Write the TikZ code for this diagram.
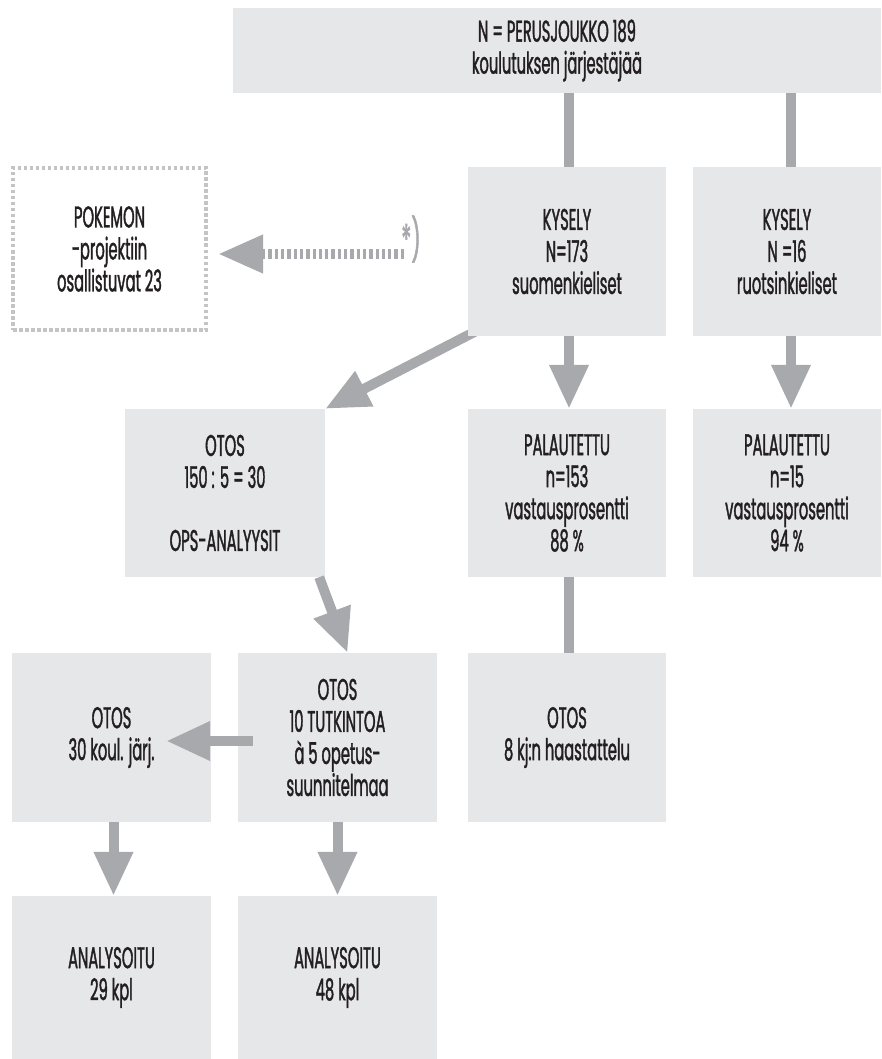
\documentclass[tikz,border=0pt]{standalone}
\usepackage{fontspec}
\setmainfont{Poppins}[FakeStretch=0.49, FakeBold=1.2]
\usetikzlibrary{arrows.meta,backgrounds}
\definecolor{boxgray}{HTML}{E6E7E8}
\definecolor{arrowgray}{HTML}{A7A9AC}
\definecolor{dotgray}{HTML}{C4C4C4}
\definecolor{textblack}{HTML}{231F20}

\begin{document}
\begin{tikzpicture}[x=1pt, y=-1pt,
		box/.style={fill=boxgray, minimum width=199pt, minimum height=169pt, inner sep=0pt,
			align=center, text=textblack, font=\fontsize{30}{32}\selectfont},
		link/.style={draw=arrowgray, line width=10pt},
		flow/.style={link, -{Triangle[length=44pt, width=37pt]}},
	]
	\useasboundingbox (0,0) rectangle (881,1059);

	\node[box, minimum width=648pt, minimum height=85pt] (top) at (557,50.5)
		{N = PERUSJOUKKO 189\\koulutuksen järjestäjää};
	\node[box, minimum width=198pt] (kys1) at (567,251.5) {KYSELY\\N=173\\suomenkieliset};
	\node[box, minimum width=188pt] (kys2) at (787,251.5) {KYSELY\\N =16\\ruotsinkieliset};
	\node[box, fill=none, draw=dotgray, line width=4pt, dash pattern=on 3.5pt off 2.5pt,
		minimum width=193pt, minimum height=162pt] (poke) at (109.5,249)
		{POKEMON\\-projektiin\\osallistuvat 23};

	\node[box, minimum width=200pt, minimum height=168pt] (otos) at (225,493)
		{OTOS\\150 : 5 = 30\\[31pt]OPS-ANALYYSIT};
	\node[box, minimum width=198pt, minimum height=168pt] (pal1) at (567,493)
		{PALAUTETTU\\n=153\\vastausprosentti\\88 \%};
	\node[box, minimum width=188pt, minimum height=168pt] (pal2) at (787,493)
		{PALAUTETTU\\n=15\\vastausprosentti\\94 \%};

	\node[box] (otosA) at (111.5,737.5) {OTOS\\30 koul. järj.};
	\node[box] (otosB) at (337.5,737.5) {OTOS\\10 TUTKINTOA\\à 5 opetus-\\suunnitelmaa};
	\node[box, minimum width=198pt] (otosC) at (567,737.5) {OTOS\\8 kj:n haastattelu};

	\node[box, minimum height=163pt] (anA) at (111.5,977.5) {ANALYSOITU\\29 kpl};
	\node[box, minimum height=163pt] (anB) at (337.5,977.5) {ANALYSOITU\\48 kpl};

	\begin{scope}[on background layer]
		\draw[link] ([xshift=2pt]kys1.north |- top.south) -- ([xshift=2pt]kys1.north);
		\draw[link] ([xshift=4pt]kys2.north |- top.south) -- ([xshift=4pt]kys2.north);
		\draw[flow] ([xshift=10pt, yshift=6pt]kys1.south west) -- (otos.north east);
	\end{scope}
	\draw[flow] ([xshift=2pt]kys1.south) -- ([xshift=2pt]pal1.north);
	\draw[flow] ([xshift=4pt]kys2.south) -- ([xshift=4pt]pal2.north);
	\draw[link] ([xshift=2pt]pal1.south) -- ([xshift=2pt]otosC.north);
	\draw[flow] ([xshift=-6pt]otos.south east) -- ([xshift=10pt]otosB.north);
	\draw[flow] ([xshift=15pt, yshift=-3.5pt]otosB.west) -- ([xshift=-45pt, yshift=-3.5pt]otosA.east);
	\draw[flow] ([xshift=2pt]otosA.south) -- ([xshift=2pt]anA.north);
	\draw[flow] (otosB.south) -- (anB.north);

	\node[text=arrowgray, inner sep=0pt, font=\fontsize{42}{42}\selectfont] (note) at (411,239) {*)};
	\coordinate (dstart) at (404,254);
	\draw[link, dash pattern=on 3.3pt off 3pt, -{Triangle[length=45pt, width=36pt]}]
		(dstart) -- ([xshift=10pt, yshift=-5pt]poke.east);
\end{tikzpicture}
\end{document}
